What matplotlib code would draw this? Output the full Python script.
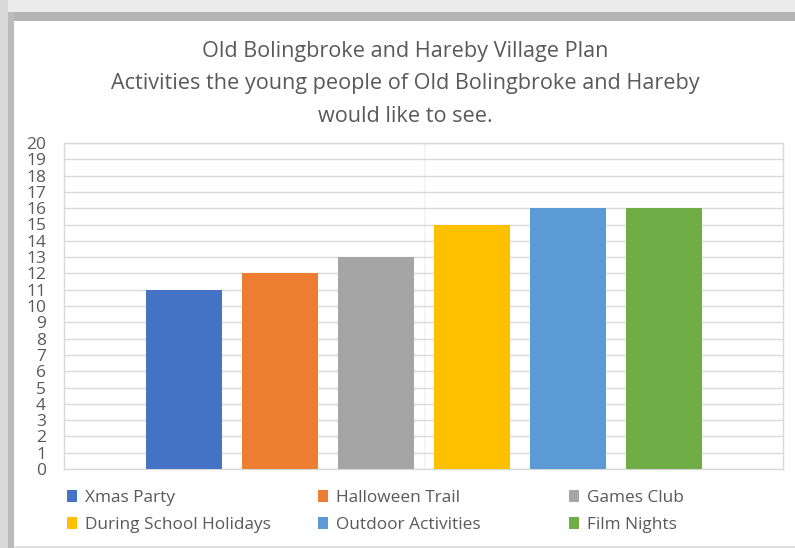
import matplotlib
matplotlib.use("Agg")
import matplotlib.pyplot as plt
from matplotlib.patches import Rectangle

# ---------- data ----------
activities = ["Xmas Party", "Halloween Trail", "Games Club",
              "During School Holidays", "Outdoor Activities", "Film Nights"]
votes = [11, 12, 13, 15, 16, 16]
colors = ["#4472C4", "#ED7D31", "#A5A5A5", "#FFC000", "#5B9BD5", "#70AD47"]
y_ticks = list(range(0, 21))
title_lines = ["Old Bolingbroke and Hareby Village Plan",
               "Activities the young people of Old Bolingbroke and Hareby",
               "would like to see."]

TEXT = "#595959"
GRID = "#D9D9D9"
FONT = "Open Sans"

fig = plt.figure(figsize=(7.95, 5.48), dpi=100)
W, H = 795, 548

# ---------- screenshot frame / shadow ----------
def px_rect(x0, y0, w, h, color):
    fig.patches.append(Rectangle((x0 / W, 1 - (y0 + h) / H), w / W, h / H,
                                 transform=fig.transFigure, facecolor=color,
                                 edgecolor="none", zorder=0))

px_rect(0, 0, W, 12, "#EBEBEB")
px_rect(0, 12, W, 9, "#B4B4B4")
px_rect(0, 0, 8, H, "#D9D9D9")
px_rect(8, 12, 6, H - 12, "#BBBBBB")
px_rect(14, 546, W - 14, 2, "#E0E0E0")

# ---------- axes ----------
ax = fig.add_axes([64 / W, 1 - 469 / H, (783 - 64) / W, (469 - 143) / H])
x = list(range(len(activities)))
bars = ax.bar(x, votes, width=0.79, color=colors, zorder=3)

ax.set_xlim(-1.25, 6.24)
ax.set_ylim(0, 20)
ax.set_yticks(y_ticks)
ax.set_xticks([])
ax.grid(axis="y", color=GRID, linewidth=1.0, zorder=0)
ax.axvline(2.5, color="#F0F0F0", linewidth=1.0, zorder=1)
for s in ax.spines.values():
    s.set_color(GRID)
    s.set_linewidth(1.0)
ax.tick_params(axis="y", length=0, pad=13, labelsize=12.5, labelcolor=TEXT)
for lab in ax.get_yticklabels():
    lab.set_fontfamily(FONT)

# ---------- title ----------
for i, line in enumerate(title_lines):
    fig.text(405 / W, 1 - (51 + 32.5 * i) / H, line, ha="center", va="center",
             fontsize=15.6, color=TEXT, family=FONT)

# ---------- legend (3 columns x 2 rows) ----------
col_x = [51, 302, 553]
for c in range(3):
    idx = [c, c + 3]
    leg = fig.legend([bars[i] for i in idx], [activities[i] for i in idx],
                     loc="upper left",
                     bbox_to_anchor=(col_x[c] / W, 1 - 474 / H),
                     frameon=False, handlelength=0.6, handleheight=0.7,
                     handletextpad=0.45, labelspacing=0.68,
                     prop={"family": FONT, "size": 12.4})
    for t in leg.get_texts():
        t.set_color(TEXT)

fig.savefig("out.png", dpi=100)
